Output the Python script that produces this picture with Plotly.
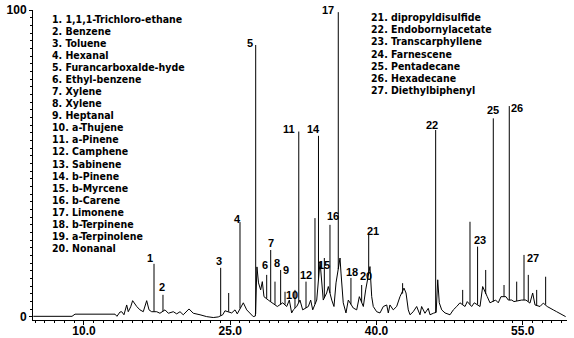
import plotly.graph_objects as go

# Total ion chromatogram: baseline / broad features
# (retention time in min, relative abundance in %)
base_rt = [4.80, 8.77, 9.08, 13.18, 13.38, 13.69, 13.87, 14.10, 14.38, 14.54,
           14.79, 14.99, 15.41, 15.74, 16.08, 16.43, 16.67, 16.94, 17.46, 17.79,
           18.31, 18.65, 19.16, 19.51, 19.85, 20.18, 20.77, 21.21, 21.90, 22.58,
           23.26, 23.77, 24.23, 24.46, 25.15, 25.49, 25.72, 26.34, 26.69, 27.03,
           27.36, 27.58, 27.74, 27.90, 28.12, 28.29, 28.46, 28.90, 29.35, 29.83,
           30.38, 30.79, 31.06, 31.30, 31.47, 31.82, 32.15, 32.43, 33.01, 33.25,
           33.46, 33.87, 34.21, 34.38, 34.54, 34.89, 35.06, 35.41, 35.64, 35.85,
           36.26, 36.36, 36.59, 36.87, 37.11, 37.62, 37.97, 38.24, 38.65, 38.89,
           39.33, 39.51, 39.67, 40.02, 40.36, 40.70, 41.05, 41.21, 41.38, 41.72,
           42.07, 42.41, 42.82, 43.03, 43.26, 43.44, 43.77, 44.12, 44.46, 44.63,
           44.97, 45.31, 45.49, 45.83, 46.12, 46.28, 46.44, 46.69, 47.03, 47.54,
           47.88, 48.23, 48.56, 49.08, 49.31, 49.76, 50.03, 50.62, 50.89, 51.36,
           51.64, 52.22, 52.49, 52.77, 53.28, 53.52, 53.87, 54.10, 54.65, 54.89,
           55.33, 55.74, 56.02, 56.26, 56.77, 57.11, 57.51, 57.79, 58.13, 58.48,
           58.82, 59.16, 59.40]

base_abundance = [0.2, 0.2, 0.9, 0.9, 0.2, 1.6, 1.7, 0.7, 3.9, 1.7,
                  3.3, 5.3, 3.4, 2.3, 1.7, 5.3, 2.3, 1.7, 1.7, 1.2,
                  2.3, 1.2, 1.7, 1.0, 1.7, 0.7, 2.6, 1.2, 0.7, 0.1,
                  -0.2, 0.0, 0.7, 2.0, 1.3, 2.3, 1.0, 4.6, 2.3, 1.3,
                  0.1, 0.3, 16.3, 11.1, 8.8, 11.5, 6.6, 5.5, 4.6, 3.4,
                  4.6, 3.4, 5.5, 1.3, 2.3, 3.4, 5.5, 2.3, 3.4, 5.5,
                  2.3, 5.5, 18.0, 12.1, 5.5, 7.8, 9.9, 5.5, 3.4, 11.1,
                  19.2, 14.3, 4.6, 1.3, 5.5, 2.9, 2.3, 6.6, 3.4, 8.8,
                  16.4, 6.6, 3.4, 1.7, 1.3, 3.4, 3.9, 1.3, 3.9, 2.3,
                  3.4, 6.6, 9.4, 7.8, 2.3, 0.7, 1.7, 3.4, 0.7, 3.4,
                  1.2, 2.8, 0.7, 1.2, 1.5, 12.1, 4.6, 2.3, 1.3, 0.7,
                  2.3, 3.4, 4.6, 3.4, 5.0, 3.4, 4.6, 3.4, 9.9, 6.6,
                  4.6, 5.5, 4.6, 6.6, 6.6, 5.5, 5.5, 5.0, 5.5, 5.5,
                  5.5, 4.5, 7.8, 3.9, 3.4, 4.5, 3.4, 2.8, 2.3, 1.7,
                  1.2, 0.7, 0.1]

# Sharp chromatographic peaks: apex time, apex abundance, abundance at the foot
peak_rt = [17.18, 18.10, 24.02, 24.84, 26.00, 27.61, 28.74, 29.15, 29.59, 30.17,
           30.62, 31.64, 32.03, 32.77, 33.69, 34.05, 34.65, 35.23, 36.08, 37.38,
           38.48, 39.20, 42.68, 46.07, 48.84, 49.59, 50.37, 51.20, 51.98, 53.08,
           53.62, 54.38, 55.13, 55.57, 56.43, 57.35]
peak_top = [17.3, 7.2, 16.0, 7.8, 30.9, 88.6, 13.7, 21.8, 11.5, 15.3,
            8.2, 8.8, 60.4, 11.5, 32.2, 59.0, 19.2, 30.0, 99.3, 12.7,
            10.4, 26.7, 11.0, 60.9, 8.8, 31.0, 22.9, 15.3, 64.7, 10.4,
            68.7, 11.5, 20.2, 13.7, 8.8, 13.1]
peak_foot = [1.7, 1.8, 0.4, 1.7, 2.8, 1.0, 6.0, 5.0, 4.0, 4.0,
             4.0, 2.9, 4.7, 2.9, 4.2, 12.0, 6.2, 7.8, 15.6, 4.1,
             4.8, 14.2, 7.6, 1.3, 4.0, 4.0, 4.0, 7.5, 5.0, 6.6,
             5.5, 5.2, 5.5, 5.0, 3.7, 4.0]

# Numbered (identified) peaks and their retention times
peak_numbers = ["1", "2", "3", "4", "5", "6", "7", "8", "9", "10", "11", "12",
                "14", "15", "16", "17", "18", "20", "21", "22", "23", "25",
                "26", "27"]
numbered_rt = [17.18, 18.10, 24.02, 26.00, 27.61, 28.74, 29.15, 29.59, 30.17,
               31.64, 32.03, 32.77, 34.05, 34.65, 35.23, 36.08, 37.38, 38.89,
               39.20, 46.07, 50.37, 51.98, 53.62, 55.13]

# Compound key
compounds_left = ["1. 1,1,1-Trichloro-ethane", "2. Benzene", "3. Toluene",
                  "4. Hexanal", "5. Furancarboxalde-hyde", "6. Ethyl-benzene",
                  "7. Xylene", "8. Xylene", "9. Heptanal", "10. a-Thujene",
                  "11. a-Pinene", "12. Camphene", "13. Sabinene",
                  "14. b-Pinene", "15. b-Myrcene", "16. b-Carene",
                  "17. Limonene", "18. b-Terpinene", "19. a-Terpinolene",
                  "20. Nonanal"]
compounds_right = ["21. dipropyldisulfide", "22. Endobornylacetate",
                   "23. Transcarphyllene", "24. Farnescene",
                   "25. Pentadecane", "26. Hexadecane", "27. Diethylbiphenyl"]

x_ticks = [10, 25, 40, 55]
x_ticktext = ["10.0", "25.0", "40.0", "55.0"]
y_ticks = [0, 100]
y_ticktext = ["0", "100"]

# Pixel offsets of each peak number from the apex of its peak
label_offsets = {
    "1": (-4, 6), "2": (-1, 8), "3": (-2, 7), "4": (-2, 3), "5": (-6, 2),
    "6": (-2, 10), "7": (0, 7), "8": (2, 19), "9": (5, 0), "10": (-3, -5),
    "11": (-10, 3), "12": (0, 7), "14": (-5, 7), "15": (0, -7),
    "16": (3, 9), "17": (-10, 2), "18": (1, 6), "20": (0, 14),
    "21": (4, 4), "22": (-4, 5), "23": (2, 7), "25": (0, 8),
    "26": (8, -2), "27": (9, -3),
}

W, H = 574, 338
ML, MR, MT, MB = 33, 7, 10, 18
plot_w = W - ML - MR
plot_h = H - MT - MB

label_font = dict(family="Liberation Sans, Arial, sans-serif", size=11, color="black")
key_font = dict(family="DejaVu Sans Condensed, Liberation Sans, sans-serif",
                size=10.5, color="black")
tick_font = dict(family="Liberation Sans, Arial, sans-serif", size=12, color="black")

fig = go.Figure()
fig.add_trace(go.Scatter(x=base_rt, y=base_abundance, mode="lines",
                         line=dict(color="black", width=1), hoverinfo="skip",
                         showlegend=False))

# Each sharp peak is drawn as a stick from its foot to its apex
stick_x, stick_y = [], []
for t, top, foot in zip(peak_rt, peak_top, peak_foot):
    stick_x += [t, t, None]
    stick_y += [foot, top, None]
fig.add_trace(go.Scatter(x=stick_x, y=stick_y, mode="lines",
                         line=dict(color="black", width=1), hoverinfo="skip",
                         showlegend=False))

all_rt = base_rt + peak_rt
all_ab = base_abundance + peak_top

annotations = []
for num, t in zip(peak_numbers, numbered_rt):
    i = min(range(len(all_rt)), key=lambda k: abs(all_rt[k] - t))
    dx, dy = label_offsets[num]
    annotations.append(dict(x=all_rt[i], y=all_ab[i], text=f"<b>{num}</b>",
                            showarrow=False, xanchor="center", yanchor="middle",
                            xshift=dx, yshift=dy, font=label_font))


def key_entry(text, px, py):
    return dict(x=(px - ML) / plot_w, y=(H - MB - py) / plot_h, xref="paper",
                yref="paper", text=f"<b>{text}</b>", showarrow=False,
                xanchor="left", yanchor="middle", font=key_font, borderpad=0)


for k, name in enumerate(compounds_left):
    annotations.append(key_entry(name, 51, 18.5 + 12.09 * k))
for k, name in enumerate(compounds_right):
    annotations.append(key_entry(name, 370, 17 + 12.2 * k))

fig.update_layout(
    width=W, height=H,
    margin=dict(l=ML, r=MR, t=MT, b=MB, pad=0, autoexpand=False),
    paper_bgcolor="white", plot_bgcolor="white",
    annotations=annotations,
    xaxis=dict(range=[4.77, 59.54], showline=True, linecolor="black", linewidth=1,
               showgrid=False, zeroline=False, ticks="outside", ticklen=4,
               tickcolor="black", tickvals=x_ticks, automargin=False,
               ticklabelstandoff=-4,
               ticktext=[f"<b>{s}</b>" for s in x_ticktext], tickfont=tick_font,
               minor=dict(tickmode="linear", tick0=0, dtick=1, ticks="outside",
                          ticklen=2, tickcolor="black", showgrid=False)),
    yaxis=dict(range=[-1, 100], showline=True, linecolor="black", linewidth=1,
               showgrid=False, zeroline=False, ticks="outside", ticklen=3,
               tickcolor="black", tickvals=y_ticks, automargin=False,
               ticktext=[f"<b>{s}</b>" for s in y_ticktext], tickfont=tick_font,
               minor=dict(tickmode="linear", tick0=0, dtick=2.5, ticks="outside",
                          ticklen=2, tickcolor="black", showgrid=False)),
)

fig.write_html("out.html")
